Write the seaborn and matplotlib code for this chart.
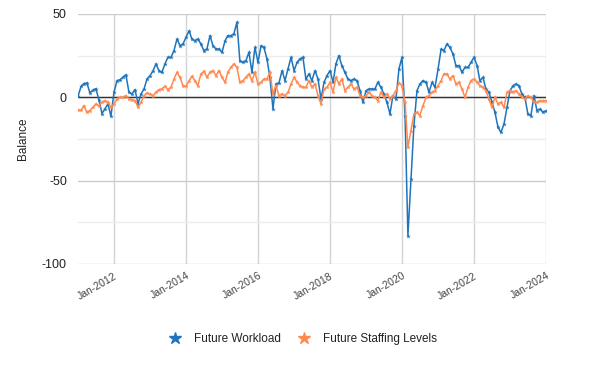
import pandas as pd
import matplotlib
matplotlib.use("Agg")
import matplotlib.pyplot as plt
import matplotlib.dates as mdates
from matplotlib.lines import Line2D
from matplotlib.ticker import MultipleLocator
import seaborn as sns

# monthly balances, Jan 2011 .. Jan 2024
months = pd.date_range("2011-01-01", "2024-01-01", freq="MS")

workload = [
    0.6, 6.5, 8.2, 8.6, 2.8, 4.2, 5.2, -1.4, -9.8, -7,
    -4, -11.4, 3, 10, 10.5, 12, 13.5, 3, 2, 4.6,
    -3.8, 2, 5, 11, 13, 16, 20, 16, 15, 20,
    24, 24, 28, 35, 31, 32, 36, 40, 35, 34,
    35, 32, 28, 29, 37, 31, 29, 29, 27, 34,
    37, 37, 38, 45, 22, 21, 22, 27, 15, 30,
    21, 31, 30, 23, 12, -7, 8, 8.6, 16, 10,
    17, 24, 16, 21, 23, 24, 11, 14, 10, 16,
    11, -1, 9, 13, 16, 9, 20, 25, 19, 15,
    11, 10, 11, 10, 4, -3, 4, 5, 5, 5,
    9, 6, 2, -3, -10, 1, -1, 17, 24, -11,
    -83, -49, -17, 4, 8, 10, 9, 3, 9, 6,
    17, 29, 28, 32, 30, 26, 19, 19, 15, 18,
    18, 21, 24, 19, 10, 12, 5, 3, -3, -9,
    -18, -21, -16, -6, 4, 7, 8, 7, 2, 0,
    -10, -11, 1, -8, -7, -9, -8,
]

staffing = [
    -7.4, -7.8, -5, -9, -8, -6, -4, -5, -3, -2,
    -3, -6, -4, -1, 0, 0, 1, -1, -1.4, -2,
    -6, -3, 1, 2.6, 2, 1, 3, 4.6, 5, 6.6,
    4.6, 6, 11, 15, 12, 7, 6.6, 10, 12.6, 10,
    7, 14, 15.6, 12, 15, 16, 13, 16, 12, 9,
    15, 18, 20, 18, 9, 10, 12, 14, 10, 15,
    8, 9, 11, 11, 15, 2, 7, 1, 2, 1,
    3, 8, 12, 9, 7, 6, 6, 10, 6, 8,
    1, -4, 5, 6, 9, 3, 12, 8, 11, 4,
    6, 8, 5, 6, 1, 0, 1, 3, 1, 0,
    -2, 3, 0, 2, -1, 1, 4, 8.6, 7, -3,
    -30, -20, -10, -9, -11, -5, 0, 1, 3, 4,
    7, 10, 14, 14, 11, 13, 8, 9, 5, 0,
    6, 10, 11, 9, 7, 6, 4, -1, -6, 0,
    -4, -3, -6, 3, 4, 3, 4, 2, 0, -1,
    1, 0, -3, -3, -2, -2, -2,
]

series_names = ["Future Workload", "Future Staffing Levels"]
colors = {"Future Workload": "#1f74bb", "Future Staffing Levels": "#ff8a50"}

df = pd.DataFrame({
    "month": list(months) * 2,
    "balance": workload + staffing,
    "series": [series_names[0]] * len(months) + [series_names[1]] * len(months),
})

sns.set_style("white")
plt.rcParams["font.family"] = ["Liberation Sans", "DejaVu Sans"]
plt.rcParams["axes.unicode_minus"] = False

fig = plt.figure(figsize=(6, 3.68), dpi=100)
ax = fig.add_axes([0.13, 0.283, 0.78, 0.679])

sns.lineplot(data=df, x="month", y="balance", hue="series", palette=colors,
             hue_order=series_names, marker="*", markersize=3.5,
             markeredgewidth=0, linewidth=1.1, legend=False, ax=ax, zorder=3)

ax.set_xlim(months[0], months[-1])
ax.set_ylim(-100, 50)
ax.yaxis.set_major_locator(MultipleLocator(50))
ax.yaxis.set_minor_locator(MultipleLocator(25))
ax.xaxis.set_major_locator(mdates.YearLocator(2, month=1, day=1))
ax.xaxis.set_major_formatter(mdates.DateFormatter("%b-%Y"))

ax.grid(axis="y", which="major", color="#cccccc", lw=1)
ax.grid(axis="y", which="minor", color="#ebebeb", lw=1)
ax.grid(axis="x", which="major", color="#d4d4d4", lw=1)
ax.axhline(0, color="#333333", lw=1, zorder=2)
for s in ax.spines.values():
    s.set_visible(False)

ax.tick_params(axis="both", which="both", length=0)
ax.tick_params(axis="y", labelsize=9, colors="#222222", pad=8)
ax.tick_params(axis="x", labelsize=7.5, colors="#444444", pad=5)
plt.setp(ax.get_xticklabels(), rotation=30, ha="right", rotation_mode="anchor")

ax.set_xlabel("")
ax.set_ylabel("Balance", fontsize=8.5, color="#222222")
ax.yaxis.set_label_coords(-0.104, 0.5)

handles = [Line2D([], [], ls="none", marker="*", markersize=9, color=colors[n]) for n in series_names]
fig.legend(handles, series_names, loc="center", bbox_to_anchor=(0.5, 0.078), ncol=2,
           frameon=False, fontsize=8.5, handletextpad=0.6, columnspacing=1.0,
           labelcolor="#222222")

fig.savefig("out.png", dpi=100)
